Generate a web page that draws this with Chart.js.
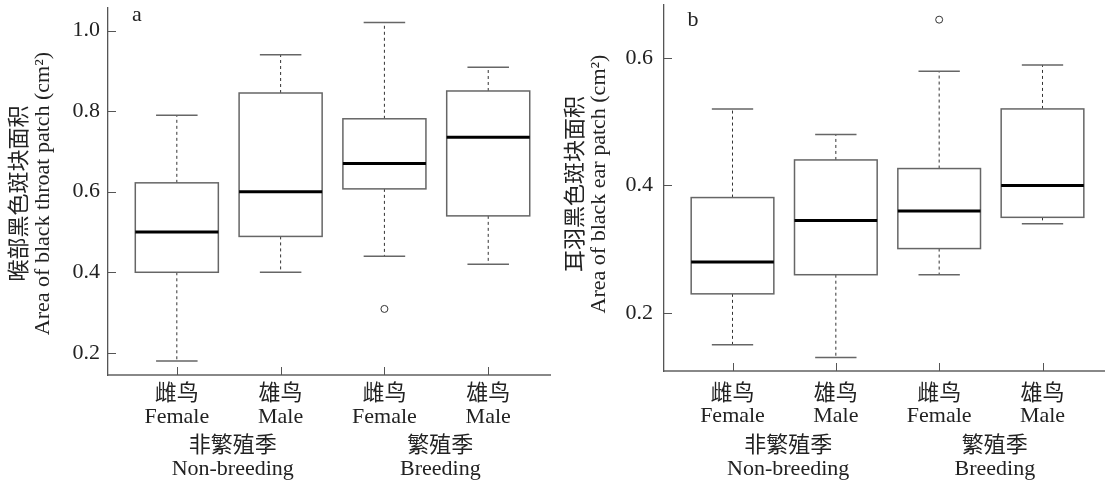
<!DOCTYPE html>
<html>
<head>
<meta charset="utf-8">
<script src="https://cdn.jsdelivr.net/npm/chart.js@4.4.1/dist/chart.umd.min.js"></script>
<style>
    html, body { margin: 0; padding: 0; background: #fff; width: 1109px; height: 485px; overflow: hidden; }
    canvas { position: absolute; top: 0; }
    #throatChart { left: 0; }
    #earChart { left: 555px; }
</style>
</head>
<body>
<canvas id="throatChart" width="555" height="485"></canvas>
<canvas id="earChart" width="554" height="485"></canvas>
<script>
// categories
const sexCn = ['雌鸟', '雄鸟', '雌鸟', '雄鸟'];
const sexEn = ['Female', 'Male', 'Female', 'Male'];
const seasonCn = ['非繁殖季', '繁殖季'];
const seasonEn = ['Non-breeding', 'Breeding'];

// a: black throat patch (cm2)
const throatLower = [0.18, 0.40, 0.44, 0.42];
const throatQ1 = [0.40, 0.489, 0.607, 0.54];
const throatMedian = [0.50, 0.60, 0.67, 0.735];
const throatQ3 = [0.622, 0.845, 0.781, 0.85];
const throatUpper = [0.79, 0.94, 1.02, 0.909];
const throatOutlierGroup = [3];
const throatOutlierValue = [0.309];
const throatTicks = [0.2, 0.4, 0.6, 0.8, 1.0];

// b: black ear patch (cm2)
const earLower = [0.15, 0.13, 0.26, 0.34];
const earQ1 = [0.23, 0.26, 0.301, 0.35];
const earMedian = [0.28, 0.345, 0.36, 0.40];
const earQ3 = [0.381, 0.44, 0.4265, 0.52];
const earUpper = [0.52, 0.48, 0.579, 0.589];
const earOutlierGroup = [3];
const earOutlierValue = [0.66];
const earTicks = [0.2, 0.4, 0.6];

const FONT = '"Liberation Serif", "Noto Sans CJK SC", serif';
const SIZE = 22;

function makeBoxplot(stats, opts) {
    return {
        id: 'boxplot',
        beforeDatasetsDraw(chart) {
            const x = chart.scales.x, y = chart.scales.y, ctx = chart.ctx;
            ctx.save();
            stats.median.forEach((m, i) => {
                const cx = x.getPixelForValue(i + 1);
                const half = x.getPixelForValue(i + 1.4) - cx;
                const cap = half / 2;
                const yLo = y.getPixelForValue(stats.lower[i]);
                const yQ1 = y.getPixelForValue(stats.q1[i]);
                const yMed = y.getPixelForValue(m);
                const yQ3 = y.getPixelForValue(stats.q3[i]);
                const yUp = y.getPixelForValue(stats.upper[i]);

                // whiskers
                ctx.setLineDash([3, 3]);
                ctx.strokeStyle = '#333';
                ctx.lineWidth = 1;
                ctx.beginPath();
                ctx.moveTo(cx, yQ3); ctx.lineTo(cx, yUp);
                ctx.moveTo(cx, yQ1); ctx.lineTo(cx, yLo);
                ctx.stroke();
                ctx.setLineDash([]);

                // caps
                ctx.strokeStyle = '#666';
                ctx.lineWidth = 1.5;
                ctx.beginPath();
                ctx.moveTo(cx - cap, yUp); ctx.lineTo(cx + cap, yUp);
                ctx.moveTo(cx - cap, yLo); ctx.lineTo(cx + cap, yLo);
                ctx.stroke();

                // box
                ctx.fillStyle = '#fff';
                ctx.fillRect(cx - half, yQ3, half * 2, yQ1 - yQ3);
                ctx.strokeStyle = '#666';
                ctx.lineWidth = 1.5;
                ctx.strokeRect(cx - half, yQ3, half * 2, yQ1 - yQ3);

                // median
                ctx.strokeStyle = '#000';
                ctx.lineWidth = 3;
                ctx.beginPath();
                ctx.moveTo(cx - half, yMed); ctx.lineTo(cx + half, yMed);
                ctx.stroke();
            });
            ctx.restore();
        },
        afterDraw(chart) {
            const x = chart.scales.x, y = chart.scales.y, ctx = chart.ctx;
            const area = chart.chartArea;
            ctx.save();
            // inward tick marks
            ctx.strokeStyle = '#555';
            ctx.lineWidth = 1;
            ctx.beginPath();
            y.ticks.forEach(t => {
                const py = Math.round(y.getPixelForValue(t.value)) + 0.5;
                ctx.moveTo(area.left, py); ctx.lineTo(area.left + 8, py);
            });
            x.ticks.forEach(t => {
                const px = Math.round(x.getPixelForValue(t.value)) + 0.5;
                ctx.moveTo(px, area.bottom); ctx.lineTo(px, area.bottom - 8);
            });
            ctx.stroke();

            ctx.fillStyle = '#222';
            ctx.textAlign = 'center';
            ctx.textBaseline = 'middle';
            ctx.font = SIZE + 'px ' + FONT;

            // season labels
            seasonCn.forEach((label, i) => {
                const px = x.getPixelForValue(i * 2 + 1.5) + 4;
                ctx.fillText(label, px, 446);
                ctx.fillText(seasonEn[i], px, 469);
            });

            // y axis title, two lines
            const cy = (area.top + area.bottom) / 2 + opts.titleShift;
            ctx.save();
            ctx.translate(area.left - 88, cy);
            ctx.rotate(-Math.PI / 2);
            ctx.fillText(opts.titleCn, 0, 0);
            ctx.restore();
            ctx.save();
            ctx.translate(area.left - 65, cy);
            ctx.rotate(-Math.PI / 2);
            ctx.fillText(opts.titleEn, 0, 0);
            ctx.restore();

            // panel letter
            ctx.fillText(opts.letter, area.left + 29, area.top + opts.letterShift);
            ctx.restore();
        }
    };
}

function createChart(id, opts) {
    const ctx = document.getElementById(id).getContext('2d');
    const outliers = opts.outlierGroup.map((g, i) => ({ x: g, y: opts.outlierValue[i] }));

    return new Chart(ctx, {
        type: 'scatter',
        data: {
            datasets: [{
                data: outliers,
                pointRadius: 3.5,
                pointHoverRadius: 3.5,
                borderColor: '#333',
                backgroundColor: '#fff',
                borderWidth: 1
            }]
        },
        options: {
            responsive: false,
            animation: false,
            devicePixelRatio: 1,
            layout: { padding: { top: opts.top, right: opts.right, left: 0, bottom: 0 } },
            scales: {
                x: {
                    type: 'linear',
                    min: 0.337,
                    max: 4.6,
                    afterBuildTicks: scale => { scale.ticks = sexEn.map((s, i) => ({ value: i + 1 })); },
                    afterFit: scale => {
                        scale.height = opts.xHeight;
                        scale.paddingLeft = 0; scale.paddingRight = 0;
                    },
                    grid: { display: false, drawTicks: false },
                    border: { display: true, color: '#888', width: 2 },
                    ticks: {
                        autoSkip: false,
                        maxRotation: 0,
                        minRotation: 0,
                        padding: opts.xPad,
                        color: '#222',
                        font: { family: FONT, size: SIZE, lineHeight: 1.03 },
                        callback: value => [sexCn[value - 1], sexEn[value - 1]]
                    }
                },
                y: {
                    min: opts.min,
                    max: opts.max,
                    afterBuildTicks: scale => { scale.ticks = opts.ticks.map(v => ({ value: v })); },
                    afterFit: scale => {
                        scale.width = opts.yWidth;
                        scale.paddingTop = 0; scale.paddingBottom = 0;
                    },
                    grid: { display: false, drawTicks: false },
                    border: { display: true, color: '#555', width: 1.3 },
                    ticks: {
                        padding: opts.yPad,
                        color: '#222',
                        font: { family: FONT, size: SIZE },
                        callback: value => value.toFixed(1)
                    }
                }
            },
            plugins: {
                legend: { display: false },
                tooltip: { enabled: false }
            }
        },
        plugins: [makeBoxplot(opts.stats, opts)]
    });
}

createChart('throatChart', {
    stats: { lower: throatLower, q1: throatQ1, median: throatMedian, q3: throatQ3, upper: throatUpper },
    outlierGroup: throatOutlierGroup,
    outlierValue: throatOutlierValue,
    ticks: throatTicks,
    min: 0.145, max: 1.056,
    top: 8, right: 3, xHeight: 110, yWidth: 108, xPad: 8, yPad: 8,
    titleShift: 2, letterShift: 7,
    titleCn: '喉部黑色斑块面积',
    titleEn: 'Area of black throat patch (cm²)',
    letter: 'a'
});

createChart('earChart', {
    stats: { lower: earLower, q1: earQ1, median: earMedian, q3: earQ3, upper: earUpper },
    outlierGroup: earOutlierGroup,
    outlierValue: earOutlierValue,
    ticks: earTicks,
    min: 0.109, max: 0.683,
    top: 5, right: 0, xHeight: 114, yWidth: 109, xPad: 11.5, yPad: 11,
    titleShift: -4, letterShift: 15,
    titleCn: '耳羽黑色斑块面积',
    titleEn: 'Area of black ear patch (cm²)',
    letter: 'b'
});
</script>
</body>
</html>
